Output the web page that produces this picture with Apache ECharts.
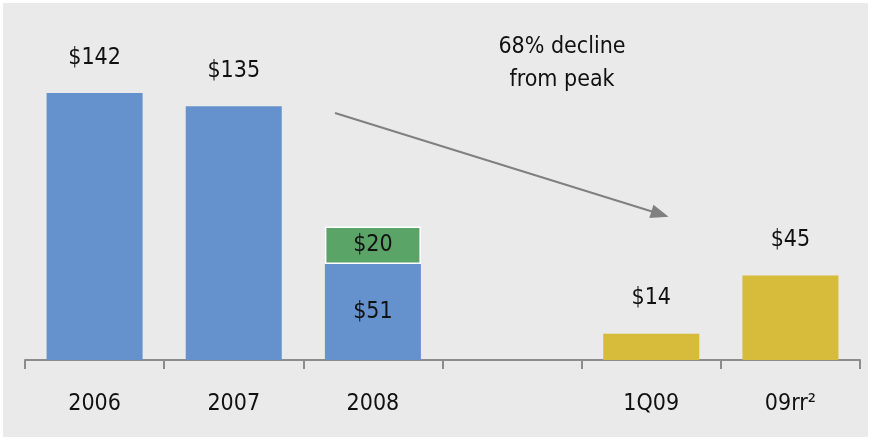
<!DOCTYPE html>
<html>
<head>
<meta charset="utf-8">
<script src="https://cdn.jsdelivr.net/npm/echarts@6/dist/echarts.min.js"></script>
<style>
  html, body { margin: 0; padding: 0; background: #ffffff; }
  #chart { width: 877px; height: 441px; }
</style>
</head>
<body>
<div id="chart"></div>
<script>
// 数据
const categories = ['2006', '2007', '2008', '', '1Q09', '09rr²'];
const baseValues = [142, 135, 51, null, null, null];     // 蓝色
const extraValues = [null, null, 20, null, null, null];  // 绿色（2008 叠加）
const recentValues = [null, null, null, null, 14, 45];   // 黄色

const colors = {
  bg: '#eaeaea',
  blue: '#6592cd',
  green: '#5ba468',
  yellow: '#d6bc3a',
  axis: '#8c8c8c',
  arrow: '#808080',
  text: '#111111'
};
const FONT = '"DejaVu Sans Condensed", "DejaVu Sans", sans-serif';

// 堆叠柱子的底部标签放在里面
const hasStackAbove = (i) => extraValues[i] != null;

const labelStyle = {
  show: true,
  formatter: (p) => '$' + p.value,
  color: colors.text,
  fontFamily: FONT,
  fontSize: 23
};

const toData = (arr, insideFn) => arr.map((v, i) => {
  if (v == null) return '-';
  const inside = insideFn(i);
  return {
    value: v,
    label: inside
      ? { position: 'inside' }
      : { position: 'top', distance: 24 }
  };
});

const myChart = echarts.init(document.getElementById('chart'), null, { renderer: 'canvas' });

const option = {
  animation: false,
  backgroundColor: '#ffffff',
  graphic: [
    {
      type: 'rect',
      z: -10,
      shape: { x: 3, y: 3, width: 865, height: 434 },
      style: { fill: colors.bg }
    },
    {
      type: 'text',
      x: 562,
      y: 31,
      style: {
        text: '68% decline\nfrom peak',
        align: 'center',
        verticalAlign: 'top',
        fill: colors.text,
        font: '23px ' + FONT,
        lineHeight: 33
      }
    }
  ],
  grid: { left: 25, right: 17, top: 78, bottom: 81 },
  xAxis: {
    type: 'category',
    data: categories,
    axisLine: { lineStyle: { color: colors.axis, width: 2 } },
    axisTick: { show: true, interval: 0, length: 9, lineStyle: { color: colors.axis, width: 2 } },
    axisLabel: {
      interval: 0,
      margin: 33,
      color: colors.text,
      fontFamily: FONT,
      fontSize: 23
    }
  },
  yAxis: {
    type: 'value',
    min: 0,
    max: 150,
    show: false,
    splitLine: { show: false }
  },
  series: [
    {
      type: 'bar',
      stack: 'total',
      barCategoryGap: '31%',
      itemStyle: { color: colors.blue },
      label: labelStyle,
      data: toData(baseValues, hasStackAbove),
      markLine: {
        silent: true,
        symbol: ['none', 'triangle'],
        symbolSize: [14, 18],
        label: { show: false },
        lineStyle: { color: colors.arrow, width: 2, type: 'solid' },
        data: [[{ x: 335, y: 113 }, { x: 660, y: 214 }]]
      }
    },
    {
      type: 'bar',
      stack: 'total',
      itemStyle: { color: colors.green, borderColor: '#ffffff', borderWidth: 1.5 },
      label: labelStyle,
      data: toData(extraValues, () => true)
    },
    {
      type: 'bar',
      stack: 'total',
      itemStyle: { color: colors.yellow },
      label: labelStyle,
      data: toData(recentValues, () => false)
    }
  ]
};

myChart.setOption(option);
</script>
</body>
</html>
